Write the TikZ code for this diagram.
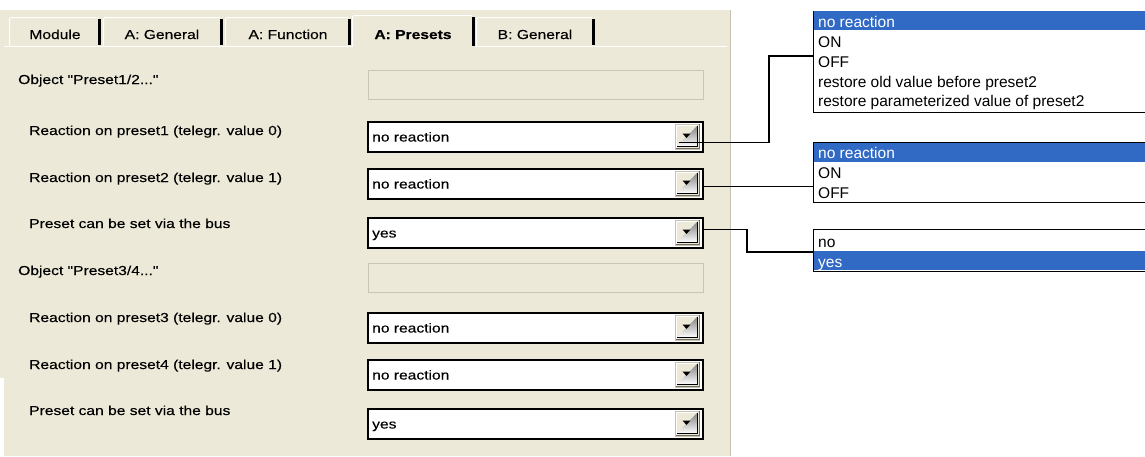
\documentclass[tikz,border=0pt]{standalone}
\usepackage{fontspec}
\newfontfamily\uifont[FakeStretch=1.2,FakeBold=0.25]{Liberation Sans}
\newfontfamily\popfont{Liberation Sans}
\definecolor{panel}{HTML}{ECE9D8}
\definecolor{hl}{HTML}{316AC5}
\definecolor{shade}{HTML}{ACA899}
\definecolor{dshade}{HTML}{716F64}
\definecolor{disb}{HTML}{C9C6B6}
\definecolor{edge}{HTML}{C5C2B2}
\tikzset{
  lbl/.style={anchor=base west, inner sep=0pt, font=\uifont\fontsize{13}{15}\selectfont},
  tabtxt/.style={anchor=base, inner sep=0pt, font=\uifont\fontsize{13}{15}\selectfont},
  ptxt/.style={anchor=base west, inner sep=0pt, font=\popfont\fontsize{15.5}{18}\selectfont},
  ddbox/.style={draw=black, line width=1.5pt, fill=white, anchor=north west, minimum width=335pt, minimum height=30pt, inner sep=0pt},
  disbox/.style={draw=disb, line width=1pt, fill=panel, anchor=north west, minimum width=335pt, minimum height=29pt, inner sep=0pt},
  btnbox/.style={fill=panel, draw=edge, line width=0.8pt, anchor=north west, minimum width=24pt, minimum height=25pt, inner sep=0pt},
  popbox/.style={draw=black, line width=1.2pt, fill=white, anchor=north west, minimum width=345pt, inner sep=0pt},
  conn/.style={draw=black, line width=1.3pt},
}
\begin{document}
\begin{tikzpicture}[x=1pt,y=-1pt]
\useasboundingbox (0,0) rectangle (1145,456);
\fill[white] (0,0) rectangle (1145,456);
% panel
\fill[panel] (0,10) rectangle (731,456);
\fill[white] (0,378) rectangle (4,456);
\draw[edge, line width=1.5pt] (730.5,10) -- (730.5,456);
% tab row baseline
\draw[white, line width=1pt] (4,46.5) -- (727,46.5);
% inactive tabs
\foreach \a/\b/\c/\txt/\nm in {9/101/55/Module/t1, 103/223/162/A: General/t2, 225/351/288/A: Function/t3, 476/595/535/B: General/t5}{
  \fill[panel] (\a,17) rectangle (\b,46);
  \draw[white, line width=1pt] (\a+0.5,46) -- (\a+0.5,19) -- (\a+2,17.5) -- (\b-3,17.5);
  \draw[shade, line width=1pt] (\b-2.5,19) -- (\b-2.5,45);
  \draw[black, line width=1.5pt] (\b-0.8,19) -- (\b-0.8,45);
  \node[tabtxt] (\nm) at (\c,39) {\txt};
}
% active tab
\fill[panel] (352,15) rectangle (475,48);
\draw[white, line width=1pt] (352.5,47) -- (352.5,17) -- (354,15.5) -- (472,15.5);
\draw[shade, line width=1pt] (472.5,17) -- (472.5,46);
\draw[black, line width=1.5pt] (474.2,17) -- (474.2,46);
\node[tabtxt, font=\uifont\bfseries\fontsize{13}{15}\selectfont] (t4) at (413,39) {A: Presets};
% labels
\node[lbl] (l1) at (18,84) {Object "Preset1/2..."};
\node[lbl] (l2) at (29,135) {Reaction on preset1 (telegr. value 0)};
\node[lbl] (l3) at (29,182) {Reaction on preset2 (telegr. value 1)};
\node[lbl] (l4) at (29,228) {Preset can be set via the bus};
\node[lbl] (l5) at (18,275) {Object "Preset3/4..."};
\node[lbl] (l6) at (29,322) {Reaction on preset3 (telegr. value 0)};
\node[lbl] (l7) at (29,369) {Reaction on preset4 (telegr. value 1)};
\node[lbl] (l8) at (29,415) {Preset can be set via the bus};
% disabled object boxes
\node[disbox] (o1) at (367.5,70) {};
\node[disbox] (o2) at (367.5,262.5) {};
% dropdowns
\foreach \n/\t/\txt in {1/121/no reaction, 2/168/no reaction, 3/217/yes, 4/312/no reaction, 5/359/no reaction, 6/408/yes}{
  \node[ddbox] (dd\n) at (367,\t) {};
  \node[lbl] (ddt\n) at (372,\t+20.5) {\txt};
  \node[btnbox] (b\n) at (675,\t+2.5) {};
  \draw[white, line width=1pt] (676.5,\t+26.5) -- (676.5,\t+4) -- (697.5,\t+4);
  \draw[shade, line width=1pt] (697.5,\t+4.5) -- (697.5,\t+25.5) -- (676.5,\t+25.5);
  \draw[dshade, line width=1pt] (699,\t+3) -- (699,\t+27) -- (675.5,\t+27);
  \fill[black] (682.5,\t+12.5) -- (690.5,\t+12.5) -- (686.5,\t+17) -- cycle;
}
% popups
\node[popbox, minimum height=101pt] (p1) at (813,10.5) {};
\fill[hl] (813.6,11.1) rectangle (1146,30);
\node[ptxt, text=white] (p1a) at (818,27) {no reaction};
\node[ptxt] (p1b) at (818,47) {ON};
\node[ptxt] (p1c) at (818,67) {OFF};
\node[ptxt] (p1d) at (818,87) {restore old value before preset2};
\node[ptxt] (p1e) at (818,106.5) {restore parameterized value of preset2};

\node[popbox, minimum height=60pt] (p2) at (813,142) {};
\fill[hl] (813.6,142.6) rectangle (1146,162);
\node[ptxt, text=white] (p2a) at (818,158.5) {no reaction};
\node[ptxt] (p2b) at (818,178.5) {ON};
\node[ptxt] (p2c) at (818,198) {OFF};

\node[popbox, minimum height=42pt] (p3) at (813,229) {};
\fill[hl] (813.6,250.5) rectangle (1146,270.4);
\node[ptxt] (p3a) at (818,247) {no};
\node[ptxt, text=white] (p3b) at (818,267) {yes};
% connectors
\coordinate (c1s) at ([shift={(-8,6)}]b1.center);
\coordinate (k1) at (769,56);
\draw[conn] (c1s) -| (k1) -- (k1 -| p1.west);
\coordinate (c2s) at ([shift={(0,3)}]dd2.east);
\draw[conn] (c2s) -- (c2s -| p2.west);
\coordinate (c3s) at ([shift={(0,-3)}]dd3.east);
\coordinate (k3) at (747,252);
\draw[conn] (c3s) -| (k3) -- (k3 -| p3.west);
\end{tikzpicture}
\end{document}
